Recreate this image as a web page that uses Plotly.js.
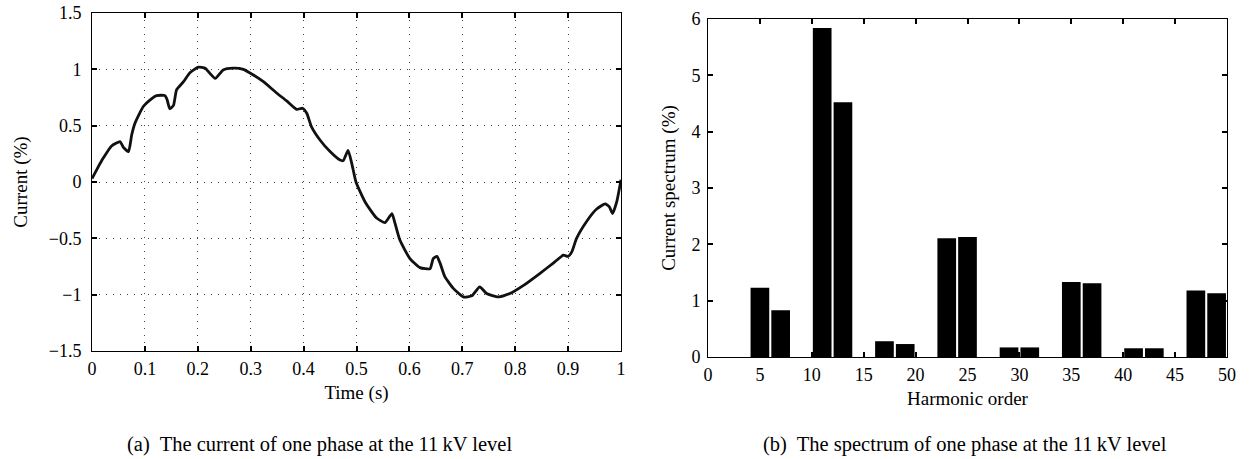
<!DOCTYPE html>
<html>
<head>
<meta charset="utf-8">
<script src="https://cdn.plot.ly/plotly-3.0.1.min.js"></script>
<style>html,body{margin:0;padding:0;background:#fff;}#chart{width:1251px;height:459px;}</style>
</head>
<body>
<div id="chart"></div>
<script>
// Panel (a): current waveform
const timeS = [0, 0.012, 0.021, 0.037, 0.053, 0.059, 0.069, 0.075, 0.081, 0.097, 0.113, 0.122, 0.138, 0.142, 0.147, 0.154, 0.160, 0.173, 0.185, 0.201, 0.214, 0.220, 0.233, 0.248, 0.267, 0.286, 0.305, 0.324, 0.349, 0.368, 0.387, 0.398, 0.406, 0.415, 0.431, 0.450, 0.469, 0.475, 0.484, 0.491, 0.499, 0.516, 0.538, 0.554, 0.567, 0.573, 0.582, 0.601, 0.620, 0.639, 0.645, 0.652, 0.658, 0.667, 0.683, 0.702, 0.718, 0.733, 0.746, 0.768, 0.790, 0.815, 0.847, 0.872, 0.891, 0.900, 0.907, 0.916, 0.935, 0.954, 0.970, 0.978, 0.984, 0.992, 1.0];
const currentPct = [0.03, 0.136, 0.21, 0.32, 0.358, 0.31, 0.27, 0.417, 0.52, 0.67, 0.74, 0.767, 0.767, 0.73, 0.65, 0.68, 0.82, 0.89, 0.97, 1.02, 1.01, 0.98, 0.92, 0.995, 1.01, 1.0, 0.95, 0.89, 0.79, 0.72, 0.645, 0.655, 0.61, 0.49, 0.373, 0.27, 0.195, 0.19, 0.28, 0.166, 0.0, -0.175, -0.32, -0.36, -0.28, -0.37, -0.515, -0.68, -0.76, -0.77, -0.68, -0.66, -0.72, -0.84, -0.944, -1.02, -1.01, -0.93, -0.99, -1.02, -0.99, -0.92, -0.81, -0.72, -0.65, -0.66, -0.62, -0.5, -0.35, -0.24, -0.195, -0.22, -0.28, -0.175, 0.02];

// Panel (b): harmonic spectrum
const harmonicOrder = [5, 7, 11, 13, 17, 19, 23, 25, 29, 31, 35, 37, 41, 43, 47, 49];
const spectrumPct = [1.23, 0.83, 5.84, 4.52, 0.28, 0.23, 2.11, 2.13, 0.17, 0.17, 1.33, 1.31, 0.155, 0.155, 1.18, 1.13];

// Text
const captionA = "(a)  The current of one phase at the 11\u2009kV level";
const captionB = "(b)  The spectrum of one phase at the 11\u2009kV level";

const W = 1251, H = 459;
const fx = p => p / W;
const fy = p => 1 - p / H;
const FONT = "Liberation Serif, Times New Roman, serif";
const TICK = 18, TITLE = 19, CAP = 20.5;

const axisCommon = {
  showline: true, linecolor: '#000', linewidth: 1, mirror: 'ticks',
  ticks: 'inside', ticklen: 5, tickwidth: 2, tickcolor: '#000',
  zeroline: false, tickfont: {family: FONT, size: TICK, color: '#000'}
};

const traces = [
  {x: timeS, y: currentPct, type: 'scatter', mode: 'lines',
   line: {color: '#111', width: 2.8, shape: 'spline', smoothing: 0.5}, xaxis: 'x', yaxis: 'y', hoverinfo: 'skip'},
  {x: harmonicOrder, y: spectrumPct, type: 'bar', width: 1.8,
   marker: {color: '#000', line: {width: 0}}, xaxis: 'x2', yaxis: 'y2', hoverinfo: 'skip'}
];

const layout = {
  width: W, height: H,
  margin: {l: 0, r: 0, t: 0, b: 0},
  paper_bgcolor: '#fff', plot_bgcolor: '#fff',
  showlegend: false,
  font: {family: FONT, size: TICK, color: '#000'},
  xaxis: Object.assign({}, axisCommon, {
    domain: [fx(92), fx(621)], range: [0, 1], dtick: 0.1, tick0: 0,
    showgrid: true, gridcolor: '#444', gridwidth: 1, griddash: '1px,6px',
    anchor: 'y', automargin: false, ticklabelstandoff: 1,
    title: {text: 'Time (s)', font: {family: FONT, size: TITLE}, standoff: 8}
  }),
  yaxis: Object.assign({}, axisCommon, {
    domain: [fy(351), fy(13)], range: [-1.5, 1.5], dtick: 0.5, tick0: 0,
    showgrid: true, gridcolor: '#444', gridwidth: 1, griddash: '1px,6px',
    anchor: 'x', automargin: false, ticklabelstandoff: 6,
    title: {text: 'Current (%)', font: {family: FONT, size: TITLE}, standoff: 16}
  }),
  xaxis2: Object.assign({}, axisCommon, {
    domain: [fx(708), fx(1227)], range: [0, 50], dtick: 5, tick0: 0,
    showgrid: false, anchor: 'y2', automargin: false, ticklabelstandoff: 1,
    title: {text: 'Harmonic order', font: {family: FONT, size: TITLE}, standoff: 8}
  }),
  yaxis2: Object.assign({}, axisCommon, {
    domain: [fy(357), fy(19)], range: [0, 6], dtick: 1, tick0: 0,
    showgrid: false, anchor: 'x2', automargin: false, ticklabelstandoff: 3,
    title: {text: 'Current spectrum (%)', font: {family: FONT, size: TITLE}, standoff: 10}
  }),
  annotations: [
    {text: captionA, xref: 'paper', yref: 'paper', x: fx(319), y: fy(444),
     xanchor: 'center', yanchor: 'middle', showarrow: false, font: {family: FONT, size: CAP}},
    {text: captionB, xref: 'paper', yref: 'paper', x: fx(965), y: fy(444),
     xanchor: 'center', yanchor: 'middle', showarrow: false, font: {family: FONT, size: CAP}}
  ]
};

Plotly.newPlot('chart', traces, layout, {staticPlot: true, displayModeBar: false});
</script>
</body>
</html>
